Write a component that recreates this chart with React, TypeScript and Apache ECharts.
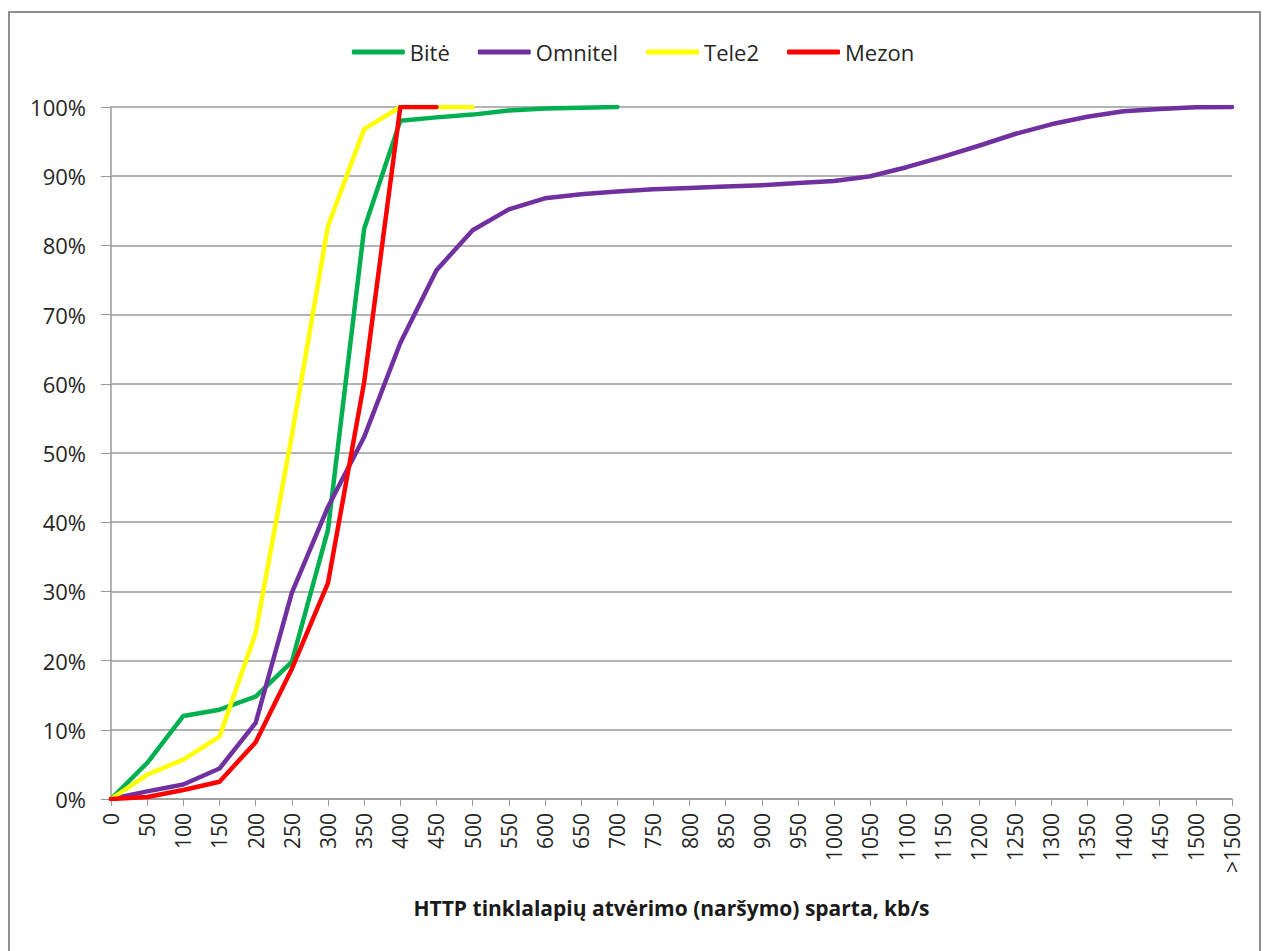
import React, { useEffect, useRef } from "react";
import * as echarts from "echarts";

const categories = [
  "0", "50", "100", "150", "200", "250", "300", "350", "400", "450", "500",
  "550", "600", "650", "700", "750", "800", "850", "900", "950", "1000",
  "1050", "1100", "1150", "1200", "1250", "1300", "1350", "1400", "1450",
  "1500", ">1500",
];

const bite = [0, 5.2, 12.0, 12.9, 14.8, 19.8, 38.9, 82.4, 98.0, 98.5, 98.9, 99.5, 99.8, 99.9, 100];
const omnitel = [
  0, 1.1, 2.1, 4.4, 11.0, 29.8, 42.2, 52.3, 65.9, 76.4, 82.2, 85.2, 86.8,
  87.4, 87.8, 88.1, 88.3, 88.5, 88.7, 89.0, 89.3, 90.0, 91.3, 92.8, 94.4,
  96.1, 97.5, 98.6, 99.4, 99.7, 99.95, 100,
];
const tele2 = [0, 3.5, 5.7, 9.0, 24.0, 52.5, 82.8, 96.8, 100, 100, 100];
const mezon = [0, 0.3, 1.3, 2.5, 8.2, 18.8, 31.2, 60.2, 100, 100];

const yTicks = { min: 0, max: 100, interval: 10 };

const FONT = "Open Sans";

export default function App() {
  const ref = useRef<HTMLDivElement>(null);
  useEffect(() => {
    if (!ref.current) return;
    const chart = echarts.init(ref.current, undefined, { renderer: "svg" });
    const lineSeries = (name: string, data: number[], color: string) => ({
      name,
      type: "line",
      data,
      symbol: "none",
      showSymbol: false,
      lineStyle: { color, width: 4.5, cap: "round", join: "round" },
      itemStyle: { color },
      emphasis: { disabled: true },
    });
    chart.setOption({
      animation: false,
      backgroundColor: "#ffffff",
      graphic: [
        {
          type: "rect",
          shape: { x: 9, y: 12, width: 1251, height: 1000 },
          style: { fill: "none", stroke: "#8f8f8f", lineWidth: 2 },
          silent: true,
        },
      ],
      legend: {
        top: 36,
        left: "center",
        icon: "roundRect",
        itemWidth: 53,
        itemHeight: 5,
        itemGap: 28,
        textStyle: { fontFamily: FONT, fontSize: 22, color: "#262626" },
        data: ["Bitė", "Omnitel", "Tele2", "Mezon"],
      },
      grid: { left: 111, right: 34, top: 107, bottom: 152, containLabel: false },
      xAxis: {
        type: "category",
        data: categories,
        boundaryGap: false,
        name: "HTTP tinklalapių atvėrimo (naršymo) sparta, kb/s",
        nameLocation: "middle",
        nameGap: 98,
        nameTextStyle: { fontFamily: FONT, fontSize: 21, fontWeight: "bold", color: "#1a1a1a" },
        axisLine: { lineStyle: { color: "#9a9a9a", width: 1.5 } },
        axisTick: { show: true, length: 7, alignWithLabel: true, lineStyle: { color: "#9a9a9a" }, interval: 0 },
        axisLabel: {
          interval: 0,
          rotate: 90,
          margin: 14,
          fontFamily: FONT,
          fontSize: 21,
          color: "#262626",
        },
        splitLine: { show: false },
      },
      yAxis: {
        type: "value",
        min: yTicks.min,
        max: yTicks.max,
        interval: yTicks.interval,
        axisLine: { show: true, lineStyle: { color: "#9a9a9a", width: 1.5 } },
        axisTick: { show: true, length: 10, lineStyle: { color: "#9a9a9a" } },
        axisLabel: {
          formatter: "{value}%",
          margin: 25,
          fontFamily: FONT,
          fontSize: 22,
          color: "#262626",
        },
        splitLine: { show: true, lineStyle: { color: "#9a9a9a", width: 1.5 } },
      },
      series: [
        lineSeries("Bitė", bite, "#00b050"),
        lineSeries("Omnitel", omnitel, "#7030a0"),
        lineSeries("Tele2", tele2, "#ffff00"),
        lineSeries("Mezon", mezon, "#ff0000"),
      ],
    });
    return () => chart.dispose();
  }, []);
  return (
    <div
      ref={ref}
      style={{ position: "absolute", left: 0, top: 0, width: 1266, height: 951 }}
    />
  );
}
